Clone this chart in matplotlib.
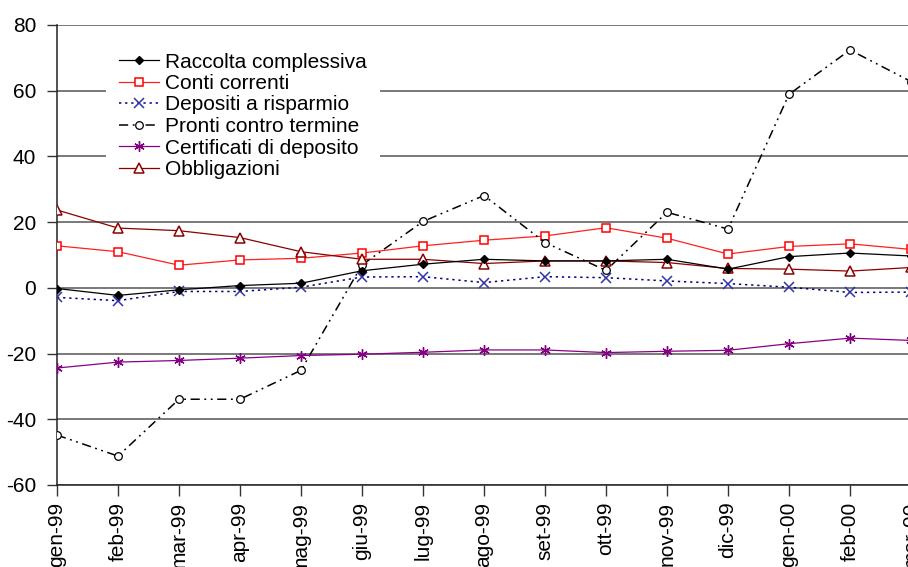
import numpy as np
import matplotlib
matplotlib.use("Agg")
import matplotlib.pyplot as plt

plt.rcParams['font.family'] = ['Liberation Sans', 'DejaVu Sans']
plt.rcParams['axes.unicode_minus'] = False

# mesi
mesi = ['gen-99', 'feb-99', 'mar-99', 'apr-99', 'mag-99', 'giu-99', 'lug-99',
        'ago-99', 'set-99', 'ott-99', 'nov-99', 'dic-99', 'gen-00', 'feb-00',
        'mar-00']

# variazioni percentuali sui 12 mesi
raccolta = [-0.2, -2.3, -0.6, 0.7, 1.4, 5.2, 7.2, 8.7, 8.2, 8.2, 8.7, 5.7, 9.5, 10.6, 9.7]
conti = [12.8, 11.0, 6.9, 8.5, 9.0, 10.6, 12.8, 14.5, 15.8, 18.3, 15.1, 10.3, 12.6, 13.4, 11.7]
depositi = [-2.9, -3.9, -1.1, -1.1, 0.2, 3.3, 3.4, 1.6, 3.4, 3.1, 2.1, 1.3, 0.2, -1.4, -1.3]
pronti = [-44.8, -51.2, -33.9, -33.9, -25.1, 7.0, 20.2, 28.1, 13.8, 5.3, 23.0, 17.9, 58.9, 72.4, 62.8]
certificati = [-24.4, -22.6, -22.1, -21.4, -20.6, -20.2, -19.6, -18.9, -18.9, -19.7, -19.3, -19.0, -17.0, -15.3, -16.0]
obbligazioni = [23.7, 18.2, 17.4, 15.3, 11.0, 8.7, 8.7, 7.4, 8.2, 8.2, 7.7, 5.9, 5.7, 5.1, 6.2]

x = np.arange(len(mesi))

fig = plt.figure(figsize=(9.08, 5.67), dpi=100)
# the plot runs slightly past the right edge, like the original sheet
ax = fig.add_axes([57 / 908, 1 - 485 / 567, 854 / 908, 460 / 567])

lw = 0.9
ax.plot(x, raccolta, color='black', lw=lw, marker='D', ms=4,
        mfc='black', mec='black', label='Raccolta complessiva', zorder=5)
ax.plot(x, conti, color='#ff2020', lw=lw, marker='s', ms=6,
        mfc='white', mec='#ff0000', mew=1.1, label='Conti correnti', zorder=4)
ax.plot(x, depositi, color='#000080', lw=1.1, ls=(0, (1.5, 2.5)), marker='x', ms=6.5,
        mec='#3333aa', mew=1.1, label='Depositi a risparmio', zorder=4)
ax.plot(x, pronti, color='black', lw=1.1, ls=(0, (6, 3, 1.2, 3, 1.2, 3)), marker='o', ms=5.5,
        mfc='white', mec='black', mew=0.9, label='Pronti contro termine', zorder=4)
ax.plot(x, certificati, color='#880088', lw=lw, marker=(6, 2, 0), ms=7.5,
        mec='#800080', mew=1.0, label='Certificati di deposito', zorder=4)
ax.plot(x, obbligazioni, color='#8b0000', lw=lw, marker='^', ms=6.5,
        mfc='white', mec='#8b0000', mew=1.1, label='Obbligazioni', zorder=4)

ax.set_xlim(0, 14)
ax.set_ylim(-60, 80)
ax.set_yticks(np.arange(-60, 81, 20))
ax.set_xticks(x)
ax.set_xticklabels(mesi, rotation=90, va='top', ha='center', fontsize=15)
ax.tick_params(axis='y', labelsize=15, length=7, width=1, pad=8, color='#333333')
ax.tick_params(axis='x', length=8, width=1, pad=4, color='#333333')

ax.yaxis.grid(True, color='#6e6e6e', lw=1.3)
ax.set_axisbelow(True)
for s in ['top', 'right']:
    ax.spines[s].set_visible(False)
ax.spines['left'].set_color('#222222')
ax.spines['bottom'].set_color('#222222')
ax.spines['left'].set_linewidth(1.1)
ax.spines['bottom'].set_linewidth(1.1)

leg = ax.legend(loc='upper left', bbox_to_anchor=(106 / 908, 1 - 40 / 567),
                bbox_transform=fig.transFigure, borderaxespad=0, fontsize=15,
                frameon=True, fancybox=False, edgecolor='none', facecolor='white',
                framealpha=1, handlelength=1.95, handletextpad=0.3,
                labelspacing=0.12, borderpad=0.6)
leg.set_zorder(10)

fig.savefig('out.png', dpi=100)
